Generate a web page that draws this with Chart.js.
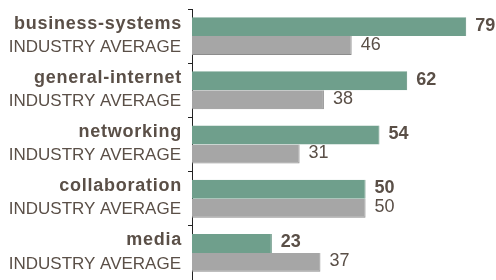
<!DOCTYPE html>
<html lang="en">
<head>
  <meta charset="UTF-8">
  <title>Category scores vs industry average</title>
  <script src="https://cdn.jsdelivr.net/npm/chart.js"></script>
  <style>
    body {
      margin: 0;
      padding: 0;
      background: #fff;
    }

    canvas {
      display: block;
    }
  </style>
</head>
<body>
  <canvas id="scoreChart" width="496" height="280"></canvas>

  <script>
    // Data
    const categories = ["business-systems", "general-internet", "networking", "collaboration", "media"];
    const scores = [79, 62, 54, 50, 23];
    const industryAverage = [46, 38, 31, 50, 37];
    const averageLabel = "INDUSTRY AVERAGE";

    const textColor = "#5a4f47";
    const fontFamily = "'Liberation Sans', Arial, sans-serif";

    // Draws the two-line category labels and the value labels next to each bar
    const labelPlugin = {
      id: 'barLabels',
      afterDatasetsDraw(chart) {
        const ctx = chart.ctx;
        const left = chart.chartArea.left;
        const green = chart.getDatasetMeta(0).data;
        const grey = chart.getDatasetMeta(1).data;
        ctx.save();
        ctx.fillStyle = textColor;
        ctx.textBaseline = 'middle';

        ctx.textAlign = 'right';
        green.forEach((bar, i) => {
          ctx.font = "bold 18px " + fontFamily;
          ctx.letterSpacing = '0.75px';
          ctx.fillText(categories[i], left - 10, bar.y - 3);
          ctx.letterSpacing = '0px';
          ctx.font = "17px " + fontFamily;
          ctx.fillText(averageLabel, left - 11, grey[i].y + 1.5);
        });

        ctx.textAlign = 'left';
        green.forEach((bar, i) => {
          ctx.font = "bold 18px " + fontFamily;
          ctx.fillText(String(scores[i]), bar.x + 9, bar.y - 1);
        });
        grey.forEach((bar, i) => {
          ctx.font = "18px " + fontFamily;
          ctx.fillText(String(industryAverage[i]), bar.x + 9, bar.y - 1);
        });
        ctx.restore();
      }
    };

    const ctx = document.getElementById('scoreChart').getContext('2d');
    new Chart(ctx, {
      type: 'bar',
      data: {
        labels: categories,
        datasets: [
          {
            label: 'score',
            data: scores,
            backgroundColor: '#6f9f8c',
            borderColor: '#5f8e7b',
            borderWidth: { top: 0, bottom: 0, left: 0, right: 1 },
            categoryPercentage: 0.70,
            barPercentage: 1.0
          },
          {
            label: averageLabel,
            data: industryAverage,
            backgroundColor: '#a6a6a6',
            borderColor: '#8c8c8c',
            borderWidth: { top: 0, bottom: 1, left: 0, right: 1 },
            categoryPercentage: 0.70,
            barPercentage: 1.0
          }
        ]
      },
      options: {
        indexAxis: 'y',
        responsive: false,
        animation: false,
        devicePixelRatio: 1,
        layout: {
          padding: { left: 188, right: 2, top: 9, bottom: -3 }
        },
        scales: {
          x: {
            display: false,
            min: 0,
            max: 87
          },
          y: {
            offset: true,
            ticks: { display: false },
            grid: {
              offset: true,
              drawOnChartArea: false,
              drawTicks: true,
              tickLength: 4,
              color: '#222',
              lineWidth: 1
            },
            border: { display: true, color: '#222', width: 1 }
          }
        },
        plugins: {
          legend: { display: false },
          tooltip: { enabled: false }
        }
      },
      plugins: [labelPlugin]
    });
  </script>
</body>
</html>
